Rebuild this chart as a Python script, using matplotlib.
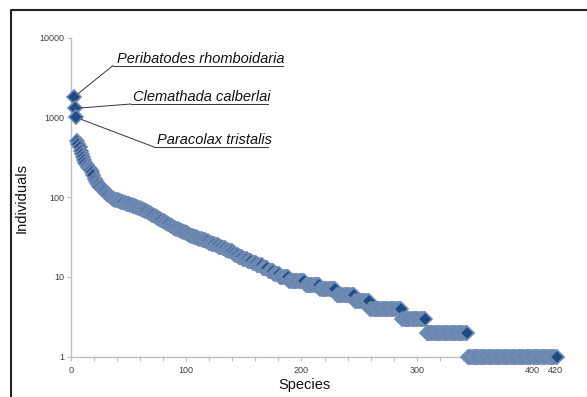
import numpy as np
import matplotlib
matplotlib.use("Agg")
import matplotlib.pyplot as plt
from matplotlib.lines import Line2D

plt.rcParams['font.family'] = ['Liberation Sans', 'DejaVu Sans']

# Abundances of the 100 most common species (rank 1..100)
top_abundances = [1800, 1300, 1000,
                  500, 460, 420, 380, 350, 320, 290,
                  270, 250, 240, 230, 225, 220, 210, 190, 170, 160,
                  150, 145, 140, 135, 130, 126, 122, 118, 114, 110, 107, 104, 101, 98,
                  96, 95, 93, 92, 91, 90, 89, 88, 87, 86, 85, 84, 83, 82, 81, 80, 79, 78, 77, 77,
                  76, 75, 74, 73, 72, 71,
                  70, 69, 68, 67, 66, 64, 63, 62, 60, 59, 58, 57, 56, 55, 54, 53, 52, 51, 50, 49,
                  48, 47, 46, 45, 44, 43, 42, 41, 41, 40, 40, 39, 39, 38, 38, 37, 37, 36, 36, 35]

# Frequency table for the remaining species: abundance -> number of species
tail_values = [34, 33, 32, 31, 30, 29, 28, 27, 26, 25, 24, 23, 22, 21, 20,
               19, 18, 17, 16, 15, 14, 13, 12, 11, 10, 9, 8, 7, 6, 5, 4, 3, 2, 1]
tail_counts = [2, 2, 3, 2, 3, 3, 2, 3, 3, 3, 3, 3, 3, 3, 2,
               3, 4, 4, 4, 4, 5, 5, 5, 5, 8, 14, 13, 14, 16, 13, 28, 21, 36, 78]

labels = ["Peribatodes rhomboidaria", "Clemathada calberlai", "Paracolax tristalis"]

x_ticks = list(range(0, 421, 20))
x_labels_shown = {0: "0", 100: "100", 200: "200", 300: "300", 400: "400", 420: "420"}
y_ticks = [1, 10, 100, 1000, 10000]

abund = np.concatenate([np.array(top_abundances, dtype=float),
                        np.repeat(np.array(tail_values, dtype=float), tail_counts)])
ranks = np.arange(1, len(abund) + 1)

W, H = 587, 397
fig = plt.figure(figsize=(W / 100, H / 100), dpi=100)
ax = fig.add_axes([71 / W, 1 - 356.7 / H, (555 - 71) / W, (356.7 - 37.7) / H])

ax.plot(ranks + 1.5, abund, linestyle='none', marker='D', markersize=7.0,
        markerfacecolor='#1F4A84', markeredgecolor='#6E89B2', markeredgewidth=1.2,
        clip_on=False, zorder=3)

ax.set_yscale('log')
ax.set_xlim(0, 420)
ax.set_ylim(1, 10000)
ax.set_yticks(y_ticks)
ax.set_yticklabels([str(v) for v in y_ticks])
ax.yaxis.set_minor_locator(matplotlib.ticker.NullLocator())
ax.set_xticks(x_ticks)
ax.set_xticklabels([x_labels_shown.get(t, "") for t in x_ticks])

for s in ['top', 'right']:
    ax.spines[s].set_visible(False)
for s in ['left', 'bottom']:
    ax.spines[s].set_color('#BFBFBF')
    ax.spines[s].set_linewidth(1.0)
ax.tick_params(axis='both', colors='#BFBFBF', labelcolor='#404040', labelsize=6.5,
               length=3, width=0.8)
ax.tick_params(axis='x', pad=4)
ax.tick_params(axis='y', pad=2)

ax.set_xlabel("Species", fontsize=10.5, color='#111111')
ax.xaxis.set_label_coords((304 - 71) / 484, (356.7 - 378) / 319)
ax.set_ylabel("Individuals", fontsize=10.5, color='#111111')
ax.yaxis.set_label_coords((29 - 71) / 484, (356.7 - 198) / 319)

# annotations (positions in image pixels)
ann = [  # text left, baseline, underline x0, x1, underline y
    (117, 63, 113, 283, 65.5),
    (133, 101, 131, 268, 104),
    (157, 144, 154, 268, 147),
]
for i, (tx, tb, ux0, ux1, uy) in enumerate(ann):
    fig.text(tx / W, 1 - tb / H, labels[i], fontsize=10.5, style='italic',
             color='#111111', va='baseline', ha='left')
    fig.add_artist(Line2D([ux0 / W, ux1 / W], [1 - uy / H, 1 - uy / H],
                          transform=fig.transFigure, color='#333333', lw=0.7))
    ax.annotate('', xy=(ranks[i] + 1.5, abund[i]), xycoords='data',
                xytext=(ux0 / W, 1 - uy / H), textcoords='figure fraction',
                arrowprops=dict(arrowstyle='-', color='#333333', lw=0.7,
                                shrinkA=0, shrinkB=4))

# outer frame (cropped at right and bottom)
fig.add_artist(Line2D([11 / W, 11 / W, 1.0], [0.0, 1 - 10 / H, 1 - 10 / H],
                      transform=fig.transFigure, color='#222222', lw=1.5))

fig.savefig("out.png", dpi=100)
